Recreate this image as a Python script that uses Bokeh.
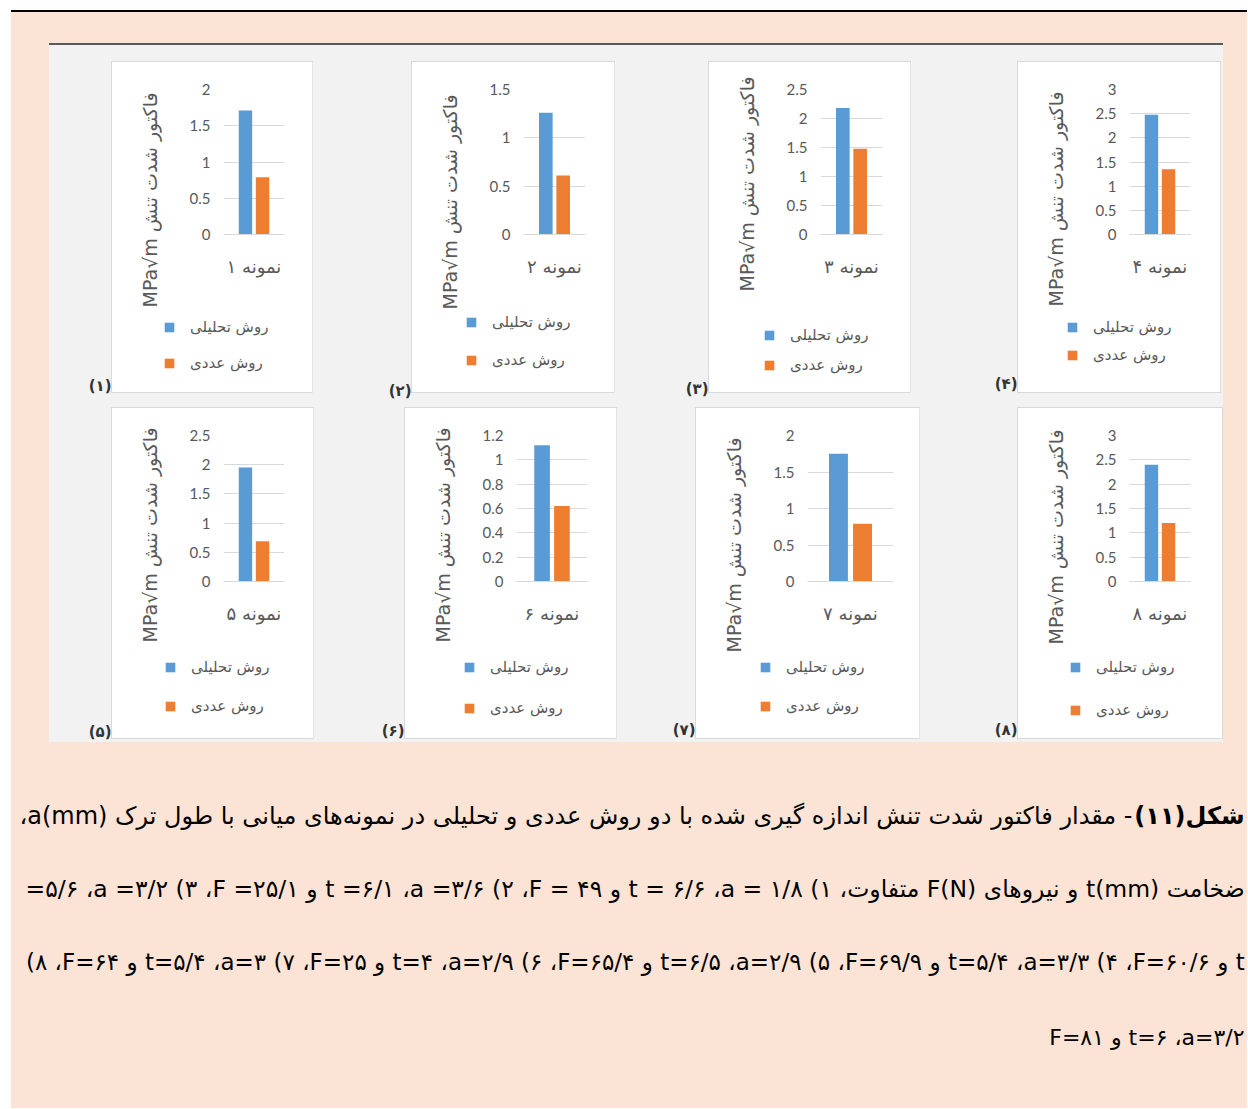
from bokeh.plotting import figure
from bokeh.models import (ColumnDataSource, Range1d, FactorRange, FixedTicker, NumeralTickFormatter,
                          Legend, LegendItem, Title, Spacer)
from bokeh.layouts import row, column
from bokeh.transform import dodge
from bokeh.core.properties import value
from bokeh.embed import file_html
from bokeh.resources import INLINE

# ---------------- data ----------------
samples = ["نمونه ۱", "نمونه ۲", "نمونه ۳", "نمونه ۴", "نمونه ۵", "نمونه ۶", "نمونه ۷", "نمونه ۸"]
analytic = [1.71, 1.26, 2.18, 2.48, 1.95, 1.12, 1.75, 2.40]   # روش تحلیلی
numeric = [0.79, 0.61, 1.48, 1.35, 0.69, 0.62, 0.79, 1.20]    # روش عددی
y_max = [2, 1.5, 2.5, 3, 2.5, 1.2, 2, 3]
y_ticks = [
    [0, 0.5, 1, 1.5, 2],
    [0, 0.5, 1, 1.5],
    [0, 0.5, 1, 1.5, 2, 2.5],
    [0, 0.5, 1, 1.5, 2, 2.5, 3],
    [0, 0.5, 1, 1.5, 2, 2.5],
    [0, 0.2, 0.4, 0.6, 0.8, 1, 1.2],
    [0, 0.5, 1, 1.5, 2],
    [0, 0.5, 1, 1.5, 2, 2.5, 3],
]
series_names = ["روش تحلیلی", "روش عددی"]
y_title = "MPa√m فاکتور شدت تنش"
panel_tags = ["(۱)", "(۲)", "(۳)", "(۴)", "(۵)", "(۶)", "(۷)", "(۸)"]
caption_bold = "شکل(۱۱)"
caption_lines = [
    "- مقدار فاکتور شدت تنش اندازه گیری شده با دو روش عددی و تحلیلی در نمونه‌های میانی با طول ترک a(mm)،",
    "ضخامت t(mm) و نیروهای F(N) متفاوت، ۱) a = ۱/۸، t = ۶/۶ و F = ۴۹، ۲) a =۳/۶، t =۶/۱ و F =۲۵/۱، ۳) a =۳/۲، ۵/۶=",
    "t و F=۶۰/۶، ۴) a=۳/۳، t=۵/۴ و F=۶۹/۹، ۵) a=۲/۹، t=۶/۵ و F=۶۵/۴، ۶) a=۲/۹، t=۴ و F=۲۵، ۷) a=۳، t=۵/۴ و F=۶۴، ۸)",
    "a=۳/۲، t=۶ و F=۸۱",
]

# ---------------- styles ----------------
BLUE = "#5B9BD5"
ORANGE = "#ED7D31"
PEACH = "#FBE4D5"
GRAY = "#F2F2F2"
TXT = "#595959"
GRID = "#D9D9D9"
FA = "DejaVu Sans"

# per panel: width, left/right borders, y-title offset, legend (lx, ly, spacing), tag width / y
row1_cfg = [
    dict(w=200, bl=110, br=28, to=-73, lx=51, ly=18, sp=14, tw=63, ty=323),
    dict(w=202, bl=111, br=29, to=-75, lx=53, ly=21, sp=16, tw=100, ty=328),
    dict(w=201, bl=111, br=28, to=-57, lx=54, ly=16, sp=8, tw=95, ty=326),
    dict(w=202, bl=110, br=30, to=-72, lx=48, ly=26, sp=6, tw=108, ty=321),
]
row2_cfg = [
    dict(w=201, bl=110, br=29, to=-61, lx=52, ly=21, sp=17, tw=63, ty=323),
    dict(w=211, bl=111, br=29, to=-61, lx=58, ly=19, sp=19, tw=92, ty=322),
    dict(w=223, bl=111, br=26, to=-71, lx=63, ly=21, sp=17, tw=80, ty=321),
    dict(w=204, bl=111, br=32, to=-63, lx=51, ly=17, sp=21, tw=99, ty=321),
]


def make_panel(i, c, hc, bt, bb, hl):
    src = ColumnDataSource(dict(cat=[samples[i]], a=[analytic[i]], n=[numeric[i]]))
    p = figure(width=c["w"], height=hc, x_range=FactorRange(factors=[samples[i]]),
               y_range=Range1d(0, y_max[i]), output_backend="svg", toolbar_location=None,
               min_border_left=c["bl"], min_border_right=c["br"], min_border_top=bt, min_border_bottom=bb,
               background_fill_color="white", border_fill_color="white", outline_line_color=None)
    p.vbar(x=dodge("cat", -0.14, range=p.x_range), top="a", width=0.22, source=src,
           fill_color=BLUE, line_color=None)
    p.vbar(x=dodge("cat", 0.14, range=p.x_range), top="n", width=0.22, source=src,
           fill_color=ORANGE, line_color=None)
    tk = FixedTicker(ticks=y_ticks[i])
    p.yaxis.ticker = tk
    p.ygrid.ticker = tk
    p.yaxis.formatter = NumeralTickFormatter(format="0.[0]")
    p.yaxis.axis_line_color = None
    p.yaxis.major_tick_line_color = None
    p.yaxis.minor_tick_line_color = None
    p.yaxis.major_tick_out = 0
    p.yaxis.major_tick_in = 0
    p.yaxis.minor_tick_out = 0
    p.yaxis.major_label_standoff = 13
    p.yaxis.major_label_text_font = "Lato"
    p.yaxis.major_label_text_font_size = "15px"
    p.yaxis.major_label_text_color = TXT
    p.xaxis.axis_line_color = GRID
    p.xaxis.major_tick_line_color = None
    p.xaxis.minor_tick_line_color = None
    p.xaxis.major_tick_out = 0
    p.xaxis.major_tick_in = 0
    p.xaxis.minor_tick_out = 0
    p.xaxis.major_label_standoff = 21
    p.xaxis.major_label_text_font = FA
    p.xaxis.major_label_text_font_size = "18px"
    p.xaxis.major_label_text_color = TXT
    p.xgrid.grid_line_color = None
    p.ygrid.grid_line_color = GRID
    t = Title(text=y_title, align="left", offset=c["to"], vertical_align="middle", standoff=50,
              text_font=FA, text_font_size="19px", text_font_style="normal", text_color=TXT)
    p.add_layout(t, "left")

    # legend strip under the chart (same series, legend swatches only)
    q = figure(width=c["w"], height=hl, x_range=FactorRange(factors=[samples[i]]),
               y_range=Range1d(0, y_max[i]), output_backend="svg", toolbar_location=None,
               min_border=0, x_axis_location=None, y_axis_location=None,
               background_fill_color="white", border_fill_color="white", outline_line_color=None)
    q.grid.visible = False
    q1 = q.vbar(x=dodge("cat", -0.14, range=q.x_range), top="a", width=0.22, source=src,
                fill_color=BLUE, line_color=None, visible=False)
    q2 = q.vbar(x=dodge("cat", 0.14, range=q.x_range), top="n", width=0.22, source=src,
                fill_color=ORANGE, line_color=None, visible=False)
    leg = Legend(items=[LegendItem(label=series_names[0], renderers=[q1]),
                        LegendItem(label=series_names[1], renderers=[q2])],
                 location=(c["lx"], c["ly"]), orientation="vertical",
                 background_fill_alpha=0, border_line_color=None, padding=0, margin=0,
                 spacing=c["sp"], glyph_width=12, glyph_height=12, label_height=22,
                 label_standoff=15, label_text_font=FA, label_text_font_size="15px",
                 label_text_color=TXT, inactive_fill_alpha=0)
    q.add_layout(leg)
    return column(children=[p, column(children=[q])],
                  styles={"box-shadow": "0 0 0 1px #D9D9D9", "background-color": "white"})


def make_tag(text, w, h, ty):
    p = figure(width=w, height=h, x_range=Range1d(0, w), y_range=Range1d(h, 0),
               output_backend="svg", toolbar_location=None, min_border=0,
               x_axis_location=None, y_axis_location=None,
               background_fill_color=GRAY, border_fill_color=GRAY, outline_line_color=None)
    p.grid.visible = False
    p.text(x=[w - 1], y=[ty], text=[text], text_align="right", text_baseline="middle",
           text_font=value(FA), text_font_size="15px", text_font_style="bold", text_color="#333333")
    return column(children=[p])


r1_children = []
for k, c in enumerate(row1_cfg):
    r1_children.append(make_tag(panel_tags[k], c["tw"], 346, c["ty"]))
    r1_children.append(make_panel(k, c, 248, 27, 76, 82))
r2_children = []
for k, c in enumerate(row2_cfg):
    r2_children.append(make_tag(panel_tags[4 + k], c["tw"], 334, c["ty"]))
    r2_children.append(make_panel(4 + k, c, 247, 27, 74, 83))

GW = 1174
gray_block = column(children=[
    Spacer(width=GW, height=2, styles={"background-color": "#595959"}),
    Spacer(width=GW, height=17),
    row(children=r1_children),
    row(children=r2_children),
], styles={"background-color": GRAY})

OW = 1236
CH = 366
cap = figure(width=OW, height=CH, x_range=Range1d(0, OW), y_range=Range1d(CH, 0),
             output_backend="svg", toolbar_location=None, min_border=0,
             x_axis_location=None, y_axis_location=None,
             background_fill_color=PEACH, border_fill_color=PEACH, outline_line_color=None)
cap.grid.visible = False
RLE, PDF, RLM = "\u202b", "\u202c", "\u200f"


def rtl(s):
    return RLE + s.replace("،", "،" + RLM) + PDF


xr = 1233
bold_w = 110
cap.text(x=[xr], y=[73], text=[rtl(caption_bold)], text_align="right", text_baseline="middle",
         text_font=value(FA), text_font_size="24px", text_font_style="bold", text_color="black")
cap_src = ColumnDataSource(dict(
    x=[xr - bold_w - 2, xr, xr, xr],
    y=[73, 146, 219, 295],
    t=[rtl(s) for s in caption_lines],
    fs=["24px", "23.5px", "23px", "22px"],
))
cap.text(x="x", y="y", text="t", source=cap_src, text_align="right", text_baseline="middle",
         text_font=value(FA), text_font_size="fs", text_color="black")

outer = column(children=[
    Spacer(width=OW, height=2, styles={"background-color": "black"}),
    Spacer(width=OW, height=31),
    row(children=[Spacer(width=38, height=1), gray_block]),
    cap,
], styles={"background-color": PEACH})

root = column(children=[Spacer(width=1, height=10), row(children=[Spacer(width=11, height=1), outer])])

open("out.html", "w").write(file_html(root, INLINE))
